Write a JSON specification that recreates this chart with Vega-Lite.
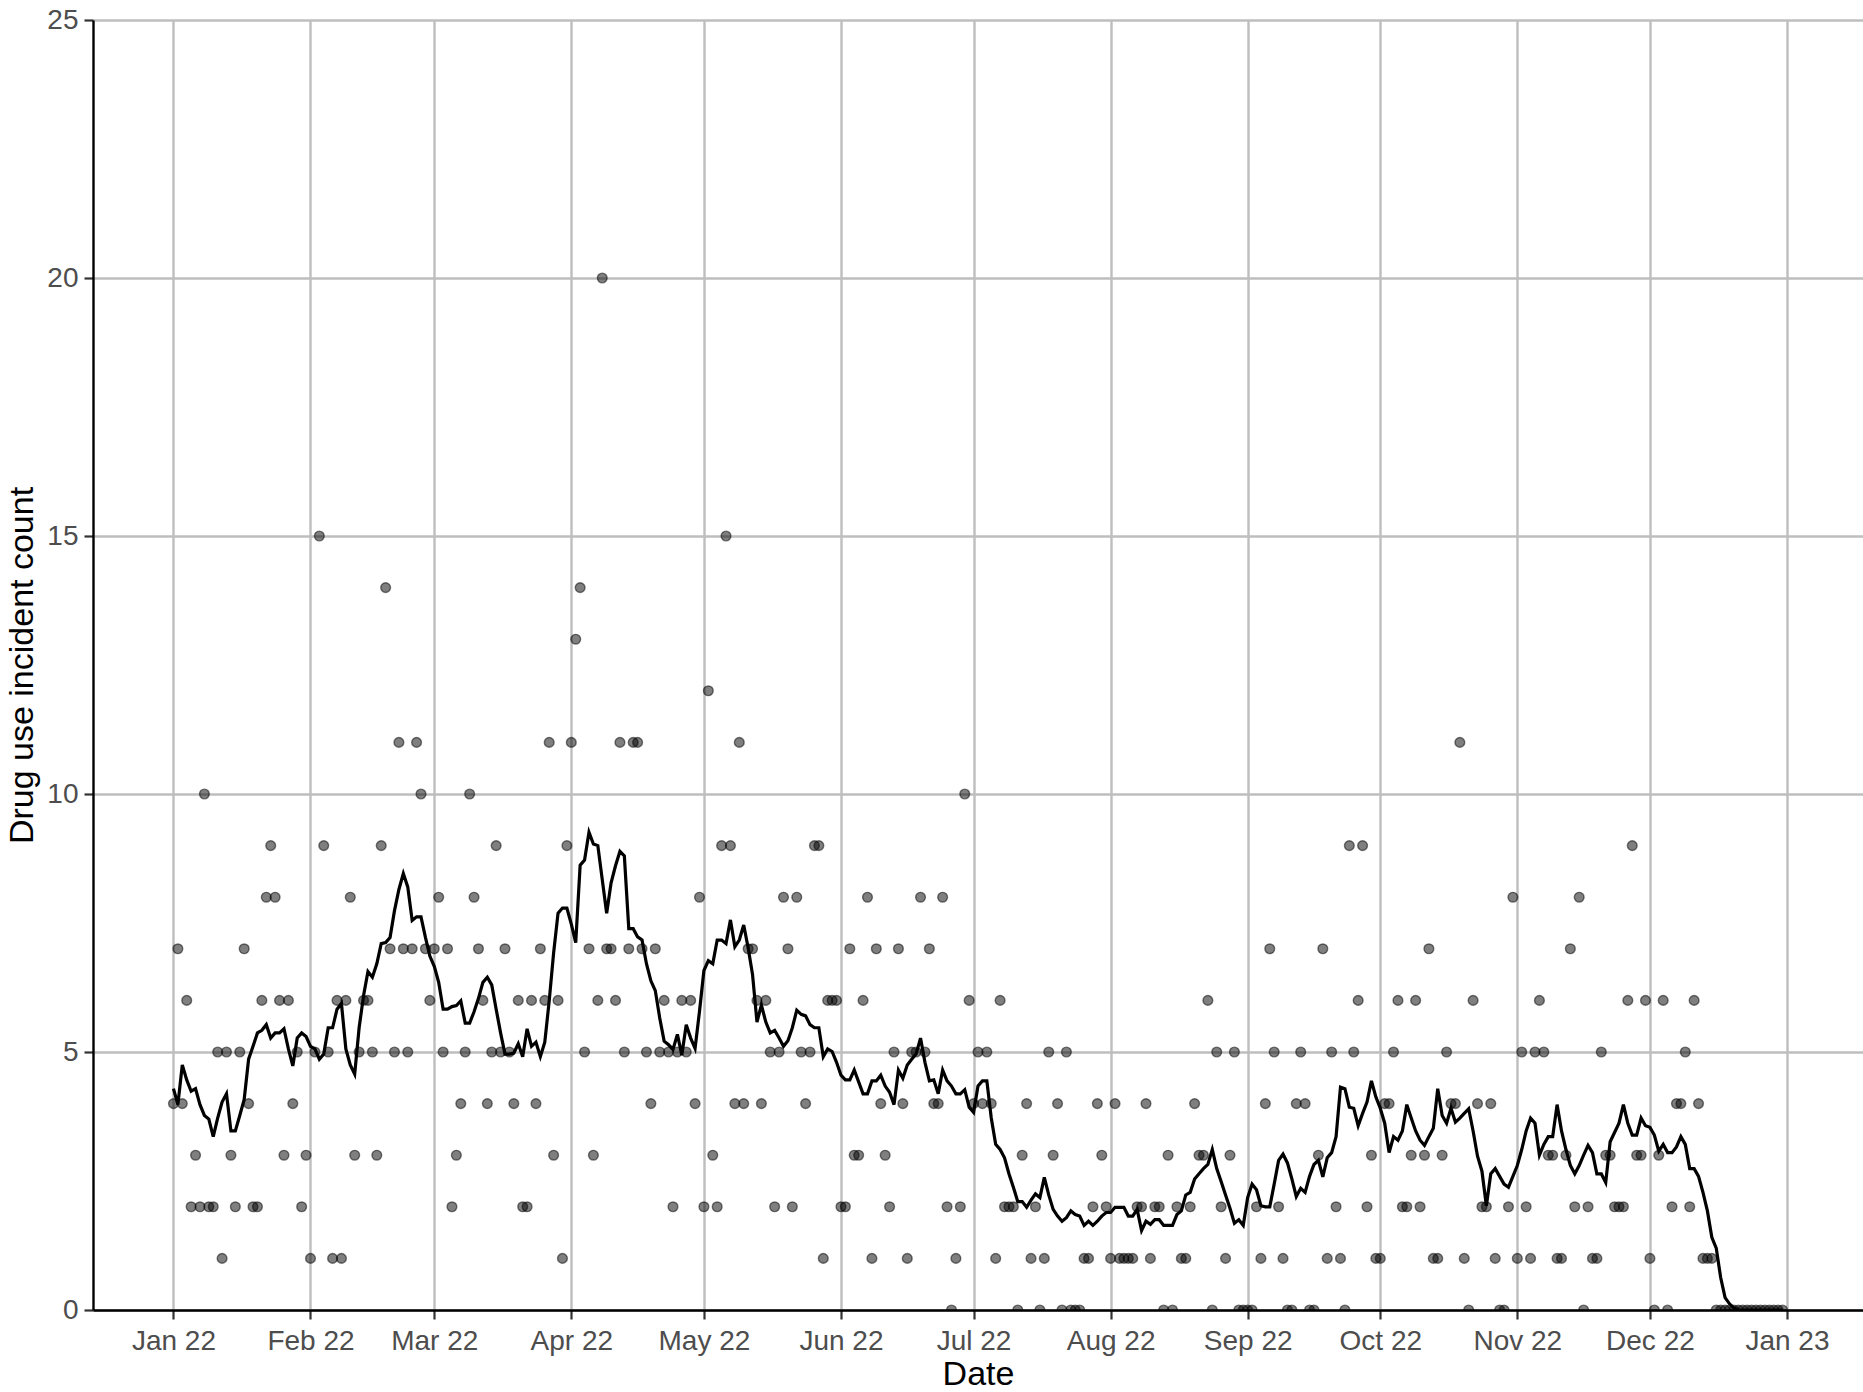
{
  "$schema": "https://vega.github.io/schema/vega-lite/v6.json",
  "width": 1770,
  "height": 1290,
  "autosize": {"type": "none"},
  "padding": {"left": 93, "top": 20, "right": 0, "bottom": 82},
  "background": "#ffffff",
  "data": {"values": [
    {"date":"2022-01-01","n":4,"avg":4.29},{"date":"2022-01-02","n":7,"avg":3.98},{"date":"2022-01-03","n":4,"avg":4.75},{"date":"2022-01-04","n":6,"avg":4.46},{"date":"2022-01-05","n":2,"avg":4.24},{"date":"2022-01-06","n":3,"avg":4.29},{"date":"2022-01-07","n":2,"avg":3.98},{"date":"2022-01-08","n":10,"avg":3.77},{"date":"2022-01-09","n":2,"avg":3.70},{"date":"2022-01-10","n":2,"avg":3.36},{"date":"2022-01-11","n":5,"avg":3.72},{"date":"2022-01-12","n":1,"avg":4.03},{"date":"2022-01-13","n":5,"avg":4.19},{"date":"2022-01-14","n":3,"avg":3.47},{"date":"2022-01-15","n":2,"avg":3.47},{"date":"2022-01-16","n":5,"avg":3.77},{"date":"2022-01-17","n":7,"avg":4.08},{"date":"2022-01-18","n":4,"avg":4.86},{"date":"2022-01-19","n":2,"avg":5.11},{"date":"2022-01-20","n":2,"avg":5.37},{"date":"2022-01-21","n":6,"avg":5.42},{"date":"2022-01-22","n":8,"avg":5.53},{"date":"2022-01-23","n":9,"avg":5.27},{"date":"2022-01-24","n":8,"avg":5.37},{"date":"2022-01-25","n":6,"avg":5.37},{"date":"2022-01-26","n":3,"avg":5.45},{"date":"2022-01-27","n":6,"avg":5.06},{"date":"2022-01-28","n":4,"avg":4.73},{"date":"2022-01-29","n":5,"avg":5.27},{"date":"2022-01-30","n":2,"avg":5.37},{"date":"2022-01-31","n":3,"avg":5.30},
    {"date":"2022-02-01","n":1,"avg":5.11},{"date":"2022-02-02","n":5,"avg":5.06},{"date":"2022-02-03","n":15,"avg":4.86},{"date":"2022-02-04","n":9,"avg":4.96},{"date":"2022-02-05","n":5,"avg":5.47},{"date":"2022-02-06","n":1,"avg":5.47},{"date":"2022-02-07","n":6,"avg":5.83},{"date":"2022-02-08","n":1,"avg":5.94},{"date":"2022-02-09","n":6,"avg":5.06},{"date":"2022-02-10","n":8,"avg":4.75},{"date":"2022-02-11","n":3,"avg":4.57},{"date":"2022-02-12","n":5,"avg":5.47},{"date":"2022-02-13","n":6,"avg":6.09},{"date":"2022-02-14","n":6,"avg":6.56},{"date":"2022-02-15","n":5,"avg":6.45},{"date":"2022-02-16","n":3,"avg":6.71},{"date":"2022-02-17","n":9,"avg":7.10},{"date":"2022-02-18","n":14,"avg":7.12},{"date":"2022-02-19","n":7,"avg":7.22},{"date":"2022-02-20","n":5,"avg":7.74},{"date":"2022-02-21","n":11,"avg":8.15},{"date":"2022-02-22","n":7,"avg":8.46},{"date":"2022-02-23","n":5,"avg":8.20},{"date":"2022-02-24","n":7,"avg":7.55},{"date":"2022-02-25","n":11,"avg":7.62},{"date":"2022-02-26","n":10,"avg":7.62},{"date":"2022-02-27","n":7,"avg":7.22},{"date":"2022-02-28","n":6,"avg":6.86},
    {"date":"2022-03-01","n":7,"avg":6.66},{"date":"2022-03-02","n":8,"avg":6.35},{"date":"2022-03-03","n":5,"avg":5.83},{"date":"2022-03-04","n":7,"avg":5.83},{"date":"2022-03-05","n":2,"avg":5.88},{"date":"2022-03-06","n":3,"avg":5.90},{"date":"2022-03-07","n":4,"avg":5.99},{"date":"2022-03-08","n":5,"avg":5.56},{"date":"2022-03-09","n":10,"avg":5.56},{"date":"2022-03-10","n":8,"avg":5.78},{"date":"2022-03-11","n":7,"avg":6.04},{"date":"2022-03-12","n":6,"avg":6.35},{"date":"2022-03-13","n":4,"avg":6.45},{"date":"2022-03-14","n":5,"avg":6.30},{"date":"2022-03-15","n":9,"avg":5.83},{"date":"2022-03-16","n":5,"avg":5.37},{"date":"2022-03-17","n":7,"avg":4.96},{"date":"2022-03-18","n":5,"avg":4.96},{"date":"2022-03-19","n":4,"avg":4.98},{"date":"2022-03-20","n":6,"avg":5.16},{"date":"2022-03-21","n":2,"avg":4.91},{"date":"2022-03-22","n":2,"avg":5.45},{"date":"2022-03-23","n":6,"avg":5.11},{"date":"2022-03-24","n":4,"avg":5.19},{"date":"2022-03-25","n":7,"avg":4.91},{"date":"2022-03-26","n":6,"avg":5.19},{"date":"2022-03-27","n":11,"avg":5.99},{"date":"2022-03-28","n":3,"avg":6.92},{"date":"2022-03-29","n":6,"avg":7.69},{"date":"2022-03-30","n":1,"avg":7.79},{"date":"2022-03-31","n":9,"avg":7.79},
    {"date":"2022-04-01","n":11,"avg":7.48},{"date":"2022-04-02","n":13,"avg":7.12},{"date":"2022-04-03","n":14,"avg":8.62},{"date":"2022-04-04","n":5,"avg":8.72},{"date":"2022-04-05","n":7,"avg":9.26},{"date":"2022-04-06","n":3,"avg":9.03},{"date":"2022-04-07","n":6,"avg":9.00},{"date":"2022-04-08","n":20,"avg":8.34},{"date":"2022-04-09","n":7,"avg":7.69},{"date":"2022-04-10","n":7,"avg":8.28},{"date":"2022-04-11","n":6,"avg":8.61},{"date":"2022-04-12","n":11,"avg":8.89},{"date":"2022-04-13","n":5,"avg":8.80},{"date":"2022-04-14","n":7,"avg":7.39},{"date":"2022-04-15","n":11,"avg":7.39},{"date":"2022-04-16","n":11,"avg":7.23},{"date":"2022-04-17","n":7,"avg":7.17},{"date":"2022-04-18","n":5,"avg":6.71},{"date":"2022-04-19","n":4,"avg":6.38},{"date":"2022-04-20","n":7,"avg":6.19},{"date":"2022-04-21","n":5,"avg":5.66},{"date":"2022-04-22","n":6,"avg":5.21},{"date":"2022-04-23","n":5,"avg":5.14},{"date":"2022-04-24","n":2,"avg":5.05},{"date":"2022-04-25","n":5,"avg":5.34},{"date":"2022-04-26","n":6,"avg":4.94},{"date":"2022-04-27","n":5,"avg":5.53},{"date":"2022-04-28","n":6,"avg":5.27},{"date":"2022-04-29","n":4,"avg":5.07},{"date":"2022-04-30","n":8,"avg":5.79},
    {"date":"2022-05-01","n":2,"avg":6.58},{"date":"2022-05-02","n":12,"avg":6.77},{"date":"2022-05-03","n":3,"avg":6.71},{"date":"2022-05-04","n":2,"avg":7.17},{"date":"2022-05-05","n":9,"avg":7.17},{"date":"2022-05-06","n":15,"avg":7.10},{"date":"2022-05-07","n":9,"avg":7.56},{"date":"2022-05-08","n":4,"avg":7.04},{"date":"2022-05-09","n":11,"avg":7.17},{"date":"2022-05-10","n":4,"avg":7.46},{"date":"2022-05-11","n":7,"avg":7.02},{"date":"2022-05-12","n":7,"avg":6.50},{"date":"2022-05-13","n":6,"avg":5.58},{"date":"2022-05-14","n":4,"avg":5.91},{"date":"2022-05-15","n":6,"avg":5.58},{"date":"2022-05-16","n":5,"avg":5.37},{"date":"2022-05-17","n":2,"avg":5.42},{"date":"2022-05-18","n":5,"avg":5.27},{"date":"2022-05-19","n":8,"avg":5.11},{"date":"2022-05-20","n":7,"avg":5.22},{"date":"2022-05-21","n":2,"avg":5.47},{"date":"2022-05-22","n":8,"avg":5.81},{"date":"2022-05-23","n":5,"avg":5.73},{"date":"2022-05-24","n":4,"avg":5.70},{"date":"2022-05-25","n":5,"avg":5.53},{"date":"2022-05-26","n":9,"avg":5.47},{"date":"2022-05-27","n":9,"avg":5.47},{"date":"2022-05-28","n":1,"avg":4.91},{"date":"2022-05-29","n":6,"avg":5.06},{"date":"2022-05-30","n":6,"avg":5.01},{"date":"2022-05-31","n":6,"avg":4.80},
    {"date":"2022-06-01","n":2,"avg":4.55},{"date":"2022-06-02","n":2,"avg":4.46},{"date":"2022-06-03","n":7,"avg":4.46},{"date":"2022-06-04","n":3,"avg":4.65},{"date":"2022-06-05","n":3,"avg":4.42},{"date":"2022-06-06","n":6,"avg":4.19},{"date":"2022-06-07","n":8,"avg":4.19},{"date":"2022-06-08","n":1,"avg":4.44},{"date":"2022-06-09","n":7,"avg":4.44},{"date":"2022-06-10","n":4,"avg":4.55},{"date":"2022-06-11","n":3,"avg":4.34},{"date":"2022-06-12","n":2,"avg":4.22},{"date":"2022-06-13","n":5,"avg":3.98},{"date":"2022-06-14","n":7,"avg":4.65},{"date":"2022-06-15","n":4,"avg":4.49},{"date":"2022-06-16","n":1,"avg":4.75},{"date":"2022-06-17","n":5,"avg":4.86},{"date":"2022-06-18","n":5,"avg":4.96},{"date":"2022-06-19","n":8,"avg":5.27},{"date":"2022-06-20","n":5,"avg":4.80},{"date":"2022-06-21","n":7,"avg":4.44},{"date":"2022-06-22","n":4,"avg":4.46},{"date":"2022-06-23","n":4,"avg":4.19},{"date":"2022-06-24","n":8,"avg":4.65},{"date":"2022-06-25","n":2,"avg":4.44},{"date":"2022-06-26","n":0,"avg":4.34},{"date":"2022-06-27","n":1,"avg":4.19},{"date":"2022-06-28","n":2,"avg":4.19},{"date":"2022-06-29","n":10,"avg":4.27},{"date":"2022-06-30","n":6,"avg":3.93},
    {"date":"2022-07-01","n":4,"avg":3.83},{"date":"2022-07-02","n":5,"avg":4.34},{"date":"2022-07-03","n":4,"avg":4.44},{"date":"2022-07-04","n":5,"avg":4.44},{"date":"2022-07-05","n":4,"avg":3.72},{"date":"2022-07-06","n":1,"avg":3.21},{"date":"2022-07-07","n":6,"avg":3.11},{"date":"2022-07-08","n":2,"avg":2.95},{"date":"2022-07-09","n":2,"avg":2.64},{"date":"2022-07-10","n":2,"avg":2.38},{"date":"2022-07-11","n":0,"avg":2.10},{"date":"2022-07-12","n":3,"avg":2.10},{"date":"2022-07-13","n":4,"avg":1.99},{"date":"2022-07-14","n":1,"avg":2.13},{"date":"2022-07-15","n":2,"avg":2.25},{"date":"2022-07-16","n":0,"avg":2.18},{"date":"2022-07-17","n":1,"avg":2.57},{"date":"2022-07-18","n":5,"avg":2.23},{"date":"2022-07-19","n":3,"avg":1.95},{"date":"2022-07-20","n":4,"avg":1.82},{"date":"2022-07-21","n":0,"avg":1.72},{"date":"2022-07-22","n":5,"avg":1.79},{"date":"2022-07-23","n":0,"avg":1.92},{"date":"2022-07-24","n":0,"avg":1.85},{"date":"2022-07-25","n":0,"avg":1.82},{"date":"2022-07-26","n":1,"avg":1.64},{"date":"2022-07-27","n":1,"avg":1.72},{"date":"2022-07-28","n":2,"avg":1.64},{"date":"2022-07-29","n":4,"avg":1.72},{"date":"2022-07-30","n":3,"avg":1.82},{"date":"2022-07-31","n":2,"avg":1.89},
    {"date":"2022-08-01","n":1,"avg":1.89},{"date":"2022-08-02","n":4,"avg":1.99},{"date":"2022-08-03","n":1,"avg":1.99},{"date":"2022-08-04","n":1,"avg":1.99},{"date":"2022-08-05","n":1,"avg":1.82},{"date":"2022-08-06","n":1,"avg":1.82},{"date":"2022-08-07","n":2,"avg":1.95},{"date":"2022-08-08","n":2,"avg":1.54},{"date":"2022-08-09","n":4,"avg":1.72},{"date":"2022-08-10","n":1,"avg":1.66},{"date":"2022-08-11","n":2,"avg":1.75},{"date":"2022-08-12","n":2,"avg":1.75},{"date":"2022-08-13","n":0,"avg":1.64},{"date":"2022-08-14","n":3,"avg":1.64},{"date":"2022-08-15","n":0,"avg":1.64},{"date":"2022-08-16","n":2,"avg":1.85},{"date":"2022-08-17","n":1,"avg":1.92},{"date":"2022-08-18","n":1,"avg":2.23},{"date":"2022-08-19","n":2,"avg":2.28},{"date":"2022-08-20","n":4,"avg":2.54},{"date":"2022-08-21","n":3,"avg":2.64},{"date":"2022-08-22","n":3,"avg":2.74},{"date":"2022-08-23","n":6,"avg":2.82},{"date":"2022-08-24","n":0,"avg":3.11},{"date":"2022-08-25","n":5,"avg":2.74},{"date":"2022-08-26","n":2,"avg":2.49},{"date":"2022-08-27","n":1,"avg":2.23},{"date":"2022-08-28","n":3,"avg":1.97},{"date":"2022-08-29","n":5,"avg":1.68},{"date":"2022-08-30","n":0,"avg":1.75},{"date":"2022-08-31","n":0,"avg":1.64},
    {"date":"2022-09-01","n":0,"avg":2.18},{"date":"2022-09-02","n":0,"avg":2.44},{"date":"2022-09-03","n":2,"avg":2.33},{"date":"2022-09-04","n":1,"avg":2.02},{"date":"2022-09-05","n":4,"avg":2.00},{"date":"2022-09-06","n":7,"avg":2.00},{"date":"2022-09-07","n":5,"avg":2.44},{"date":"2022-09-08","n":2,"avg":2.90},{"date":"2022-09-09","n":1,"avg":3.02},{"date":"2022-09-10","n":0,"avg":2.85},{"date":"2022-09-11","n":0,"avg":2.54},{"date":"2022-09-12","n":4,"avg":2.20},{"date":"2022-09-13","n":5,"avg":2.36},{"date":"2022-09-14","n":4,"avg":2.28},{"date":"2022-09-15","n":0,"avg":2.59},{"date":"2022-09-16","n":0,"avg":2.82},{"date":"2022-09-17","n":3,"avg":2.90},{"date":"2022-09-18","n":7,"avg":2.58},{"date":"2022-09-19","n":1,"avg":2.95},{"date":"2022-09-20","n":5,"avg":3.05},{"date":"2022-09-21","n":2,"avg":3.36},{"date":"2022-09-22","n":1,"avg":4.32},{"date":"2022-09-23","n":0,"avg":4.29},{"date":"2022-09-24","n":9,"avg":3.93},{"date":"2022-09-25","n":5,"avg":3.91},{"date":"2022-09-26","n":6,"avg":3.57},{"date":"2022-09-27","n":9,"avg":3.81},{"date":"2022-09-28","n":2,"avg":4.03},{"date":"2022-09-29","n":3,"avg":4.44},{"date":"2022-09-30","n":1,"avg":4.13},
    {"date":"2022-10-01","n":1,"avg":3.91},{"date":"2022-10-02","n":4,"avg":3.62},{"date":"2022-10-03","n":4,"avg":3.05},{"date":"2022-10-04","n":5,"avg":3.36},{"date":"2022-10-05","n":6,"avg":3.29},{"date":"2022-10-06","n":2,"avg":3.47},{"date":"2022-10-07","n":2,"avg":3.98},{"date":"2022-10-08","n":3,"avg":3.72},{"date":"2022-10-09","n":6,"avg":3.47},{"date":"2022-10-10","n":2,"avg":3.29},{"date":"2022-10-11","n":3,"avg":3.19},{"date":"2022-10-12","n":7,"avg":3.36},{"date":"2022-10-13","n":1,"avg":3.52},{"date":"2022-10-14","n":1,"avg":4.29},{"date":"2022-10-15","n":3,"avg":3.77},{"date":"2022-10-16","n":5,"avg":3.62},{"date":"2022-10-17","n":4,"avg":3.91},{"date":"2022-10-18","n":4,"avg":3.64},{"date":"2022-10-19","n":11,"avg":3.72},{"date":"2022-10-20","n":1,"avg":3.81},{"date":"2022-10-21","n":0,"avg":3.90},{"date":"2022-10-22","n":6,"avg":3.47},{"date":"2022-10-23","n":4,"avg":2.98},{"date":"2022-10-24","n":2,"avg":2.69},{"date":"2022-10-25","n":2,"avg":2.02},{"date":"2022-10-26","n":4,"avg":2.64},{"date":"2022-10-27","n":1,"avg":2.74},{"date":"2022-10-28","n":0,"avg":2.59},{"date":"2022-10-29","n":0,"avg":2.44},{"date":"2022-10-30","n":2,"avg":2.38},{"date":"2022-10-31","n":8,"avg":2.59},
    {"date":"2022-11-01","n":1,"avg":2.80},{"date":"2022-11-02","n":5,"avg":3.11},{"date":"2022-11-03","n":2,"avg":3.47},{"date":"2022-11-04","n":1,"avg":3.72},{"date":"2022-11-05","n":5,"avg":3.62},{"date":"2022-11-06","n":6,"avg":3.00},{"date":"2022-11-07","n":5,"avg":3.21},{"date":"2022-11-08","n":3,"avg":3.36},{"date":"2022-11-09","n":3,"avg":3.36},{"date":"2022-11-10","n":1,"avg":3.98},{"date":"2022-11-11","n":1,"avg":3.47},{"date":"2022-11-12","n":3,"avg":3.11},{"date":"2022-11-13","n":7,"avg":2.80},{"date":"2022-11-14","n":2,"avg":2.64},{"date":"2022-11-15","n":8,"avg":2.80},{"date":"2022-11-16","n":0,"avg":3.00},{"date":"2022-11-17","n":2,"avg":3.19},{"date":"2022-11-18","n":1,"avg":3.05},{"date":"2022-11-19","n":1,"avg":2.64},{"date":"2022-11-20","n":5,"avg":2.64},{"date":"2022-11-21","n":3,"avg":2.47},{"date":"2022-11-22","n":3,"avg":3.26},{"date":"2022-11-23","n":2,"avg":3.44},{"date":"2022-11-24","n":2,"avg":3.62},{"date":"2022-11-25","n":2,"avg":3.98},{"date":"2022-11-26","n":6,"avg":3.62},{"date":"2022-11-27","n":9,"avg":3.39},{"date":"2022-11-28","n":3,"avg":3.39},{"date":"2022-11-29","n":3,"avg":3.72},{"date":"2022-11-30","n":6,"avg":3.57},
    {"date":"2022-12-01","n":1,"avg":3.54},{"date":"2022-12-02","n":0,"avg":3.39},{"date":"2022-12-03","n":3,"avg":3.08},{"date":"2022-12-04","n":6,"avg":3.21},{"date":"2022-12-05","n":0,"avg":3.05},{"date":"2022-12-06","n":2,"avg":3.05},{"date":"2022-12-07","n":4,"avg":3.16},{"date":"2022-12-08","n":4,"avg":3.36},{"date":"2022-12-09","n":5,"avg":3.21},{"date":"2022-12-10","n":2,"avg":2.74},{"date":"2022-12-11","n":6,"avg":2.74},{"date":"2022-12-12","n":4,"avg":2.59},{"date":"2022-12-13","n":1,"avg":2.28},{"date":"2022-12-14","n":1,"avg":1.92},{"date":"2022-12-15","n":1,"avg":1.41},{"date":"2022-12-16","n":0,"avg":1.20},{"date":"2022-12-17","n":0,"avg":0.63},{"date":"2022-12-18","n":0,"avg":0.24},{"date":"2022-12-19","n":0,"avg":0.12},{"date":"2022-12-20","n":0,"avg":0.04},{"date":"2022-12-21","n":0,"avg":0},{"date":"2022-12-22","n":0,"avg":0},{"date":"2022-12-23","n":0,"avg":0},{"date":"2022-12-24","n":0,"avg":0},{"date":"2022-12-25","n":0,"avg":0},{"date":"2022-12-26","n":0,"avg":0},{"date":"2022-12-27","n":0,"avg":0},{"date":"2022-12-28","n":0,"avg":0},{"date":"2022-12-29","n":0,"avg":0},{"date":"2022-12-30","n":0,"avg":0},{"date":"2022-12-31","n":0,"avg":0}
  ]},
  "encoding": {
    "x": {
      "field": "date", "type": "temporal", "title": "Date",
      "scale": {"type": "utc", "domain": [{"year": 2021, "month": 12, "date": 13, "hours": 19, "minutes": 12, "utc": true}, {"year": 2023, "month": 1, "date": 18, "hours": 4, "minutes": 48, "utc": true}], "nice": false},
      "axis": {"format": "%b %y", "tickCount": {"interval": "month", "step": 1}, "labelFlush": false, "labelOverlap": false, "labelPadding": 8, "titlePadding": 2}
    }
  },
  "layer": [
    {
      "mark": {"type": "circle", "size": 95, "fill": "#000000", "fillOpacity": 0.5, "stroke": "#000000", "strokeOpacity": 0.5, "strokeWidth": 1.4, "clip": true},
      "encoding": {
        "y": {"field": "n", "type": "quantitative", "title": "Drug use incident count",
          "scale": {"domain": [0, 25], "nice": false, "zero": true},
          "axis": {"values": [0, 5, 10, 15, 20, 25], "labelPadding": 6, "titlePadding": 7}}
      }
    },
    {
      "mark": {"type": "line", "color": "#000000", "strokeWidth": 3.2, "clip": true},
      "encoding": {
        "y": {"field": "avg", "type": "quantitative"}
      }
    }
  ],
  "config": {
    "view": {"stroke": null},
    "axis": {
      "domainColor": "#000000", "domainWidth": 2.4,
      "tickColor": "#333333", "tickWidth": 2.2, "tickSize": 9,
      "labelColor": "#4d4d4d", "labelFont": "Liberation Sans", "labelFontSize": 28,
      "titleFont": "Liberation Sans", "titleFontSize": 34, "titleFontWeight": "normal", "titleColor": "#000000",
      "gridColor": "#bebebe", "gridWidth": 2.4
    }
  }
}
